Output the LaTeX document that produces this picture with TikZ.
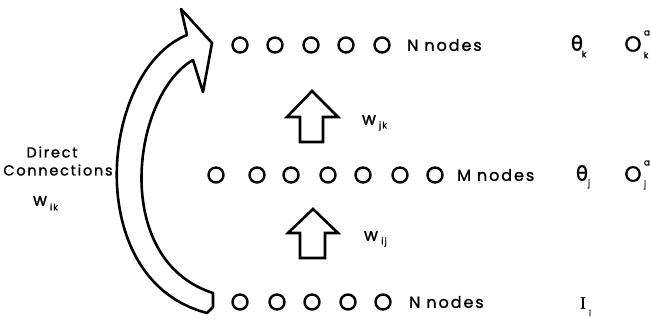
\documentclass[tikz,border=0pt]{standalone}
\usepackage{fontspec}
\setmainfont{Poppins}[LetterSpace=12,FakeBold=1.2]
\newfontfamily\greekfont{DejaVu Sans}[FakeBold=1.2]
\newfontfamily\serifI{Liberation Serif}[FakeBold=1]
\begin{document}
\begin{tikzpicture}[x=1pt,y=-1pt,
  unit/.style={circle,draw,line width=2.4pt,minimum size=15pt,inner sep=0pt},
  lbl/.style={font=\fontsize{14.5}{16}\selectfont,inner sep=0pt},
  rowlbl/.style={font=\fontsize{16}{18}\selectfont,inner sep=0pt,anchor=west},
  wlbl/.style={font=\fontsize{17}{18}\selectfont,inner sep=0pt},
  sub/.style={font=\fontsize{9}{10}\selectfont,inner sep=0pt},
  outl/.style={draw,line width=2.6pt,line join=miter,fill=white}]
\useasboundingbox (0,0) rectangle (651,322);
% top row
\foreach \x [count=\i] in {240,275,311,346,382}
  \node[unit] (t\i) at (\x,45) {};
\node[rowlbl] (tn) at (407,45) {N\hspace{6pt}nodes};
\node[font=\fontsize{20}{21}\selectfont,inner sep=0pt] (thk) at (577,43) {\greekfont θ};
\node[sub] (thks) at (584,54) {k};
\node[font=\fontsize{22}{23}\selectfont,inner sep=0pt] (ok) at (633,44) {O};
\node[sub] (oks) at (646,55) {k};
\node[sub] (oka) at (647,33) {a};
% middle row
\foreach \x [count=\i] in {216,257,291,328,363,400,435}
  \node[unit] (m\i) at (\x,175) {};
\node[rowlbl] (mn) at (457,175) {M\hspace{6pt}nodes};
\node[font=\fontsize{20}{21}\selectfont,inner sep=0pt] (thj) at (582,173) {\greekfont θ};
\node[sub] (thjs) at (589,184) {j};
\node[font=\fontsize{22}{23}\selectfont,inner sep=0pt] (oj) at (633,174) {O};
\node[sub] (ojs) at (645,185) {j};
\node[sub] (oja) at (647,163) {a};
% bottom row
\foreach \x [count=\i] in {240,277,312,348,383}
  \node[unit] (b\i) at (\x,302) {};
\node[rowlbl] (bn) at (409,302) {N\hspace{6pt}nodes};
\node[font=\fontsize{17}{18}\selectfont,inner sep=0pt] (ii) at (583,303) {\serifI I};
\node[sub] (iis) at (590,313) {i};
% block arrows
\draw[outl] (312,91) -- (338,117) -- (323,117) -- (323,142) -- (300,142) -- (300,117) -- (287,117) -- cycle;
\draw[outl] (313,209) -- (338,233) -- (325,233) -- (325,258) -- (300,258) -- (300,233) -- (288,233) -- cycle;
\node[wlbl] (wjk) at (369,120) {w};
\node[sub] (wjks) at (383,126) {jk};
\node[wlbl] (wij) at (371,236) {w};
\node[sub] (wijs) at (384,242) {ij};
% curved arrow
\draw[outl,line join=round] (187,35) -- (181,9) -- (212,43) -- (203,92) -- (193,60)
  .. controls (132,95) and (110,260) .. (213,293) -- (213,307) -- (207,313)
  .. controls (80,280) and (100,70) .. (187,35) -- cycle;
% left label
\node[lbl] (dir) at (52,152) {Direct};
\node[lbl] (con) at (58,170) {Connections};
\node[wlbl] (wik) at (40,201) {w};
\node[sub] (wiks) at (54,207) {ik};
\end{tikzpicture}
\end{document}
